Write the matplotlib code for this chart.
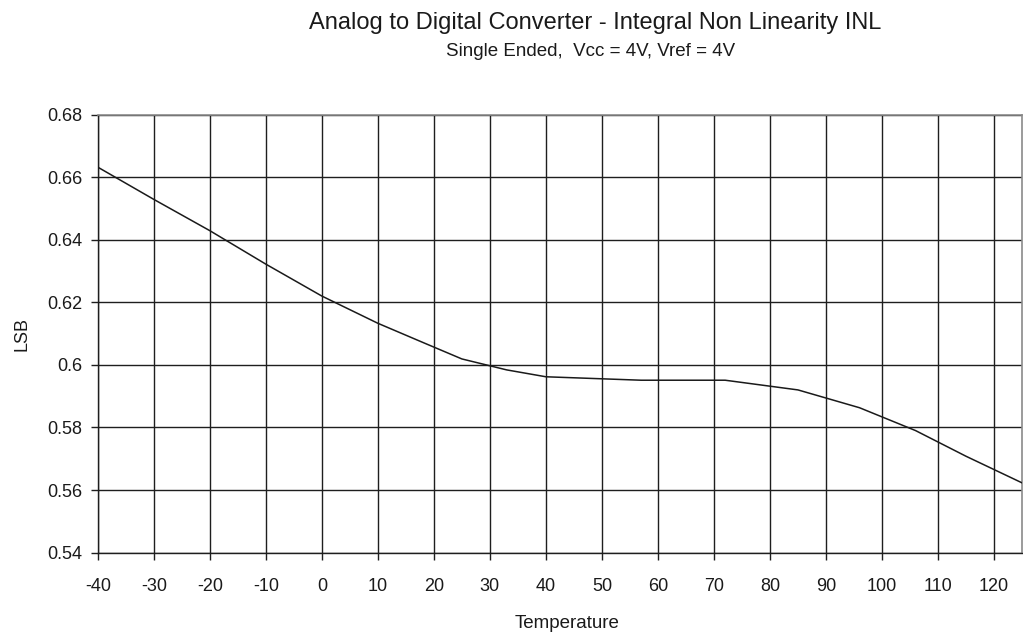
import matplotlib
matplotlib.use('Agg')
import matplotlib.pyplot as plt
import numpy as np

# Данные
temperature = [-40, -30, -20, -10, 0, 10, 18, 25, 33, 40, 57, 72, 85, 96, 106, 115, 125]
inl_lsb = [0.6632, 0.6529, 0.6429, 0.6322, 0.6220, 0.6133, 0.6072, 0.6019, 0.5984,
           0.5962, 0.5951, 0.5951, 0.5920, 0.5863, 0.5790, 0.5708, 0.5623]

x_ticks = list(range(-40, 121, 10))
y_ticks = [0.54, 0.56, 0.58, 0.6, 0.62, 0.64, 0.66, 0.68]
y_tick_labels = ['0.54', '0.56', '0.58', '0.6', '0.62', '0.64', '0.66', '0.68']

title = 'Analog to Digital Converter - Integral Non Linearity INL'
subtitle = 'Single Ended,  Vcc = 4V, Vref = 4V'

# Настройка стиля
plt.rcParams['font.family'] = ['Liberation Sans', 'DejaVu Sans']
plt.rcParams['font.size'] = 13

fig = plt.figure(figsize=(10.23, 6.35), dpi=100)
ax = fig.add_axes([97.8 / 1023, 1 - 552.6 / 635, (1022 - 97.8) / 1023, (552.6 - 114.6) / 635])

ax.plot(temperature, inl_lsb, color='#1a1a1a', linewidth=1.1, zorder=3)

ax.set_xlim(-40, 125)
ax.set_ylim(0.54, 0.68)
ax.set_xticks(x_ticks)
ax.set_xticklabels([str(t) for t in x_ticks])
ax.set_yticks(y_ticks)
ax.set_yticklabels(y_tick_labels)

ax.grid(True, color='#1e1e1e', linewidth=1.0)
ax.set_axisbelow(True)

ax.tick_params(axis='both', direction='out', length=5, width=1.0, color='#1e1e1e',
               labelsize=13, labelcolor='#1a1a1a')
ax.tick_params(axis='x', pad=13)
ax.tick_params(axis='y', pad=6)

for side in ['left', 'bottom']:
    ax.spines[side].set_color('#1e1e1e')
    ax.spines[side].set_linewidth(1.0)
for side in ['top', 'right']:
    ax.spines[side].set_color('#8a8a8a')
    ax.spines[side].set_linewidth(1.2)

ax.set_xlabel('Temperature', fontsize=13.5, color='#1a1a1a')
ax.set_ylabel('LSB', fontsize=13, color='#1a1a1a', labelpad=12)
ax.xaxis.set_label_coords((567 - 97.8) / (1022 - 97.8), -0.143)

fig.text(595 / 1023, 1 - 23.5 / 635, title, ha='center', va='center', fontsize=17, color='#1a1a1a')
fig.text(591 / 1023, 1 - 52 / 635, subtitle, ha='center', va='center', fontsize=13.5, color='#1a1a1a')

plt.savefig('out.png', dpi=100)
plt.close()
